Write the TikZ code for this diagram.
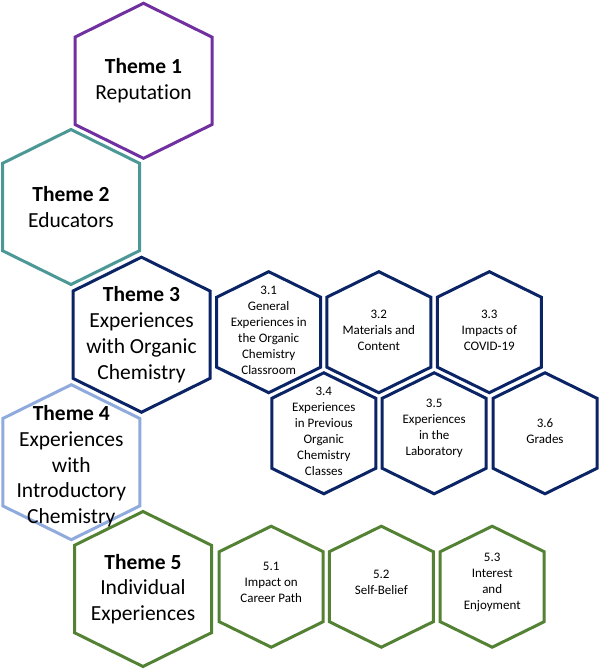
\documentclass[tikz,border=0pt]{standalone}
\usepackage{fontspec}
\setmainfont{Carlito}[Ligatures={TeX,NoCommon}]
\usetikzlibrary{calc}
\definecolor{cpurple}{RGB}{112,48,160}
\definecolor{cteal}{RGB}{76,152,150}
\definecolor{cnavy}{RGB}{10,36,102}
\definecolor{clblue}{RGB}{143,170,220}
\definecolor{cgreen}{RGB}{84,130,53}
\tikzset{
  hexline/.style={line width=3pt, line join=miter},
  bigtxt/.style={align=center, font=\fontsize{21.5}{25.8}\selectfont, inner sep=0pt, text=black},
  smalltxt/.style={align=center, font=\fontsize{13}{16}\selectfont, inner sep=0pt, text=black},
}
% big hexagon around a named node
\newcommand\hexbig[2]{%
  \draw[hexline,#2] ($(#1)+(0,-77.5)$) -- ++(68.5,33.8) -- ++(0,87.4) -- ++(-68.5,33.8) -- ++(-68.5,-33.8) -- ++(0,-87.4) -- cycle;}
\newcommand\hexsmall[2]{%
  \draw[hexline,#2] ($(#1)+(0,-60.5)$) -- ++(52,25.5) -- ++(0,70) -- ++(-52,25.5) -- ++(-52,-25.5) -- ++(0,-70) -- cycle;}
\begin{document}
\begin{tikzpicture}[x=1pt,y=-1pt]
\useasboundingbox (0,0) rectangle (600,671);
% Theme nodes (centers)
\coordinate (c1) at (143.5,80.8);
\coordinate (c2) at (71,207);
\coordinate (c3) at (141.5,334.7);
\coordinate (c4) at (71.3,462.2);
\coordinate (c5) at (143,589);
\hexbig{c1}{cpurple}
\hexbig{c2}{cteal}
\hexbig{c3}{cnavy}
\hexbig{c4}{clblue}
\hexbig{c5}{cgreen}
\node[bigtxt] (t1) at (c1) {\textbf{Theme 1}\\Reputation};
\node[bigtxt] (t2) at (c2) {\textbf{Theme 2}\\Educators};
\node[bigtxt] (t3) at (c3) {\textbf{Theme 3}\\Experiences\\with Organic\\Chemistry};
\node[bigtxt] (t4) at ($(c4)+(0,4)$) {\textbf{Theme 4}\\Experiences\\with\\Introductory\\Chemistry};
\node[bigtxt] (t5) at (c5) {\textbf{Theme 5}\\Individual\\Experiences};
% sub-theme centers
\coordinate (s31) at (268.7,332.2);
\coordinate (s32) at (378.8,332.2);
\coordinate (s33) at (489.3,332.2);
\coordinate (s34) at (323.8,433.3);
\coordinate (s35) at (434.2,433.3);
\coordinate (s36) at (545,433.3);
\coordinate (s51) at (271.2,586.7);
\coordinate (s52) at (381.3,586.7);
\coordinate (s53) at (492.2,586.7);
\foreach \s in {s31,s32,s33,s34,s35,s36}{\hexsmall{\s}{cnavy}}
\foreach \s in {s51,s52,s53}{\hexsmall{\s}{cgreen}}
\node[smalltxt] (n31) at ($(s31)+(0,-2)$) {3.1\\General\\Experiences in\\the Organic\\Chemistry\\Classroom};
\node[smalltxt] (n32) at ($(s32)+(0,-2)$) {3.2\\Materials and\\Content};
\node[smalltxt] (n33) at ($(s33)+(0,-2)$) {3.3\\Impacts of\\COVID-19};
\node[smalltxt] (n34) at ($(s34)+(0,-2)$) {3.4\\Experiences\\in Previous\\Organic\\Chemistry\\Classes};
\node[smalltxt] (n35) at ($(s35)+(0,-5)$) {3.5\\Experiences\\in the\\Laboratory};
\node[smalltxt] (n36) at ($(s36)+(0,-2)$) {3.6\\Grades};
\node[smalltxt] (n51) at ($(s51)+(0,-4)$) {5.1\\Impact on\\Career Path};
\node[smalltxt] (n52) at ($(s52)+(0,-4)$) {5.2\\Self-Belief};
\node[smalltxt] (n53) at ($(s53)+(0,-4)$) {5.3\\Interest\\and\\Enjoyment};
\end{tikzpicture}
\end{document}
